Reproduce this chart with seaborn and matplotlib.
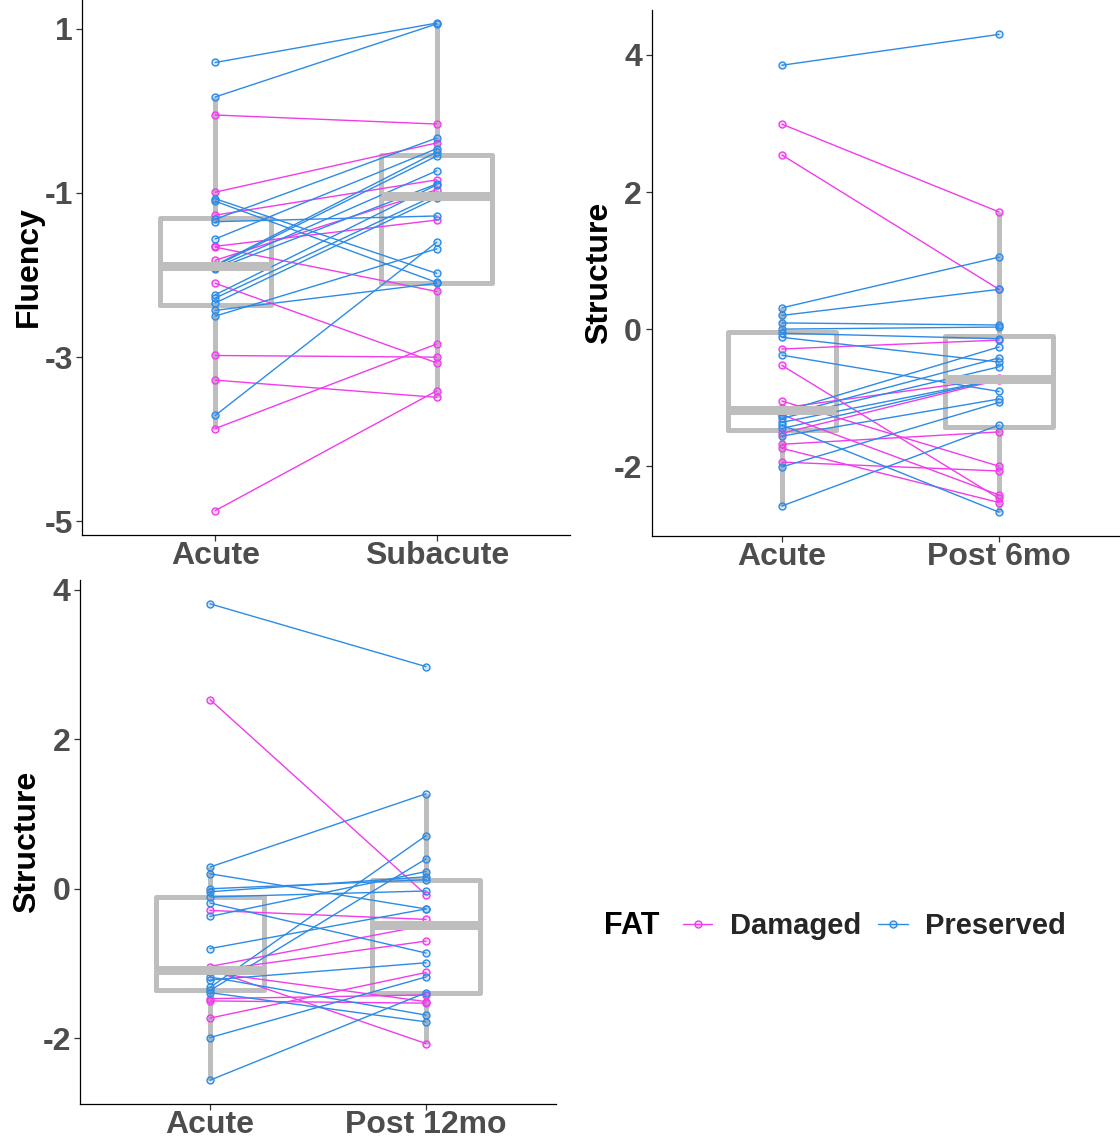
import numpy as np
import pandas as pd
import matplotlib
matplotlib.use("Agg")
import matplotlib.pyplot as plt
import seaborn as sns
from matplotlib.lines import Line2D
from matplotlib.colors import to_rgba

# ---------------- data ----------------
groups = ["Damaged", "Preserved"]
pal = {"Damaged": "#F03CEB", "Preserved": "#2C8BE6"}

# Panel 1: Fluency, Acute vs Subacute
flu_times = ["Acute", "Subacute"]
flu_fat = ["Damaged"] * 11 + ["Preserved"] * 17
flu_acute = [-0.05, -0.99, -1.27, -1.65, -1.66, -1.82, -2.10, -2.98, -3.28, -3.87, -4.87,
             0.59, 0.17, -1.07, -1.10, -1.32, -1.35, -1.56, -1.88, -1.89, -1.91, -1.93,
             -2.24, -2.28, -2.34, -2.43, -2.50, -3.71]
flu_sub = [-0.16, -0.39, -0.84, -1.33, -2.20, -0.96, -3.07, -3.00, -3.49, -2.84, -3.41,
           1.07, 1.06, -1.98, -2.09, -0.33, -1.28, -0.46, -0.50, -0.55, -0.73, -0.89,
           -0.90, -1.02, -1.06, -2.10, -1.68, -1.60]
flu_yticks = [-5, -3, -1, 1]

# Panel 2: Structure, Acute vs Post 6mo
s6_times = ["Acute", "Post 6mo"]
s6_fat = ["Damaged"] * 11 + ["Preserved"] * 17
s6_acute = [2.99, 2.54, -0.29, -0.53, -1.05, -1.15, -1.25, -1.52, -1.68, -1.74, -1.94,
            3.85, 0.31, 0.20, 0.09, 0.00, -0.06, -0.12, -0.38, -1.21, -1.26, -1.30,
            -1.36, -1.40, -1.45, -1.56, -2.01, -2.58]
s6_post = [1.71, 0.58, -0.16, -2.47, -2.00, -0.72, -2.42, -0.74, -1.50, -2.53, -2.07,
           4.30, 1.05, 0.58, 0.06, 0.03, -0.14, -0.48, -0.91, -0.26, -0.42, -0.55,
           -0.73, -2.67, -0.73, -1.02, -1.07, -1.40]
s6_yticks = [-2, 0, 2, 4]

# Panel 3: Structure, Acute vs Post 12mo
s12_times = ["Acute", "Post 12mo"]
s12_fat = ["Damaged"] * 9 + ["Preserved"] * 16
s12_acute = [2.53, -0.29, -1.04, -1.08, -1.10, -1.12, -1.47, -1.50, -1.73,
             3.81, 0.29, 0.20, 0.00, -0.04, -0.11, -0.19, -0.37, -0.80, -1.18, -1.22,
             -1.32, -1.36, -1.39, -1.99, -2.56]
s12_post = [-0.08, -0.41, -0.49, -2.07, -0.70, -1.51, -1.42, -1.53, -1.12,
            2.97, 1.27, -0.27, 0.12, 0.16, -0.03, -0.86, 0.23, -0.27, -1.69, -0.99,
            0.71, 0.40, -1.78, -1.18, -1.39]
s12_yticks = [-2, 0, 2, 4]

# ---------------- style ----------------
sns.set_theme(style="ticks")
plt.rcParams["font.family"] = ["Liberation Sans", "DejaVu Sans"]
plt.rcParams["font.weight"] = "bold"

BOX = "#BEBEBE"
W, H = 1120, 1138
fig = plt.figure(figsize=(W / 100, H / 100), dpi=100)
fig.patch.set_facecolor("white")


def px_axes(left, right, top, bottom):
    return fig.add_axes([left / W, 1 - bottom / H, (right - left) / W, (bottom - top) / H])


def panel(ax, times, fat, a, b, ylabel, yticks):
    n = len(a)
    df = pd.DataFrame({
        "id": list(range(n)) * 2,
        "FAT": fat * 2,
        "time": [times[0]] * n + [times[1]] * n,
        "value": a + b,
    })
    df["xpos"] = df["time"].map({t: i for i, t in enumerate(times)})
    sns.boxplot(data=df, x="time", y="value", order=times, ax=ax, fill=False,
                color=BOX, width=0.5, linewidth=3.6, showfliers=False,
                showcaps=False, whis=1.5,
                medianprops=dict(linewidth=6.5, color=BOX))
    nb = len(ax.lines)
    sns.lineplot(data=df, x="xpos", y="value", hue="FAT", hue_order=groups,
                 palette=pal, units="id", estimator=None, marker="o",
                 markersize=5, linewidth=1.0, legend=False, ax=ax)
    for ln in ax.lines[nb:]:
        c = ln.get_color()
        ln.set_markeredgecolor(c)
        ln.set_markerfacecolor(to_rgba(c, 0.2))
        ln.set_markeredgewidth(1.0)
    vals = np.array(a + b)
    lo, hi = vals.min(), vals.max()
    pad = 0.05 * (hi - lo)
    ax.set_ylim(lo - pad, hi + pad)
    ax.set_xlim(-0.6, 1.6)
    ax.set_xticks([0, 1])
    ax.set_xticklabels(times)
    ax.set_yticks(yticks)
    ax.set_yticklabels([str(t) for t in yticks])
    ax.set_xlabel("")
    ax.set_ylabel(ylabel, fontsize=23, fontweight="bold", color="black", labelpad=0)
    for s in ["top", "right"]:
        ax.spines[s].set_visible(False)
    for s in ["left", "bottom"]:
        ax.spines[s].set_color("black")
        ax.spines[s].set_linewidth(0.9)
    ax.tick_params(axis="both", length=4, width=0.9, color="#333333",
                   labelcolor="#4D4D4D", labelsize=23, pad=3)
    ax.tick_params(axis="x", pad=0.5)
    for lab in ax.get_xticklabels() + ax.get_yticklabels():
        lab.set_fontweight("bold")
    ax.set_facecolor("white")


ax1 = px_axes(82.4, 569.6, -1.3, 535)
panel(ax1, flu_times, flu_fat, flu_acute, flu_sub, "Fluency", flu_yticks)

ax2 = px_axes(651.8, 1129.2, 10.5, 536)
panel(ax2, s6_times, s6_fat, s6_acute, s6_post, "Structure", s6_yticks)

ax3 = px_axes(80.4, 555.6, 580, 1104)
panel(ax3, s12_times, s12_fat, s12_acute, s12_post, "Structure", s12_yticks)

# legend
fig.text(604 / W, 1 - 926 / H, "FAT", fontsize=22, fontweight="bold",
         color="black", ha="left", va="center")
handles = [Line2D([], [], color=pal[g], linewidth=1.0, marker="o", markersize=5,
                  markeredgecolor=pal[g], markerfacecolor=to_rgba(pal[g], 0.2))
           for g in groups]
fig.legend(handles, groups, loc="center left", bbox_to_anchor=(683 / W, 1 - 926 / H),
           ncol=2, frameon=False, handlelength=1.0, handletextpad=0.6,
           columnspacing=0.6, borderaxespad=0, borderpad=0,
           prop={"size": 21, "weight": "bold"})

fig.savefig("out.png", dpi=100, facecolor="white")
